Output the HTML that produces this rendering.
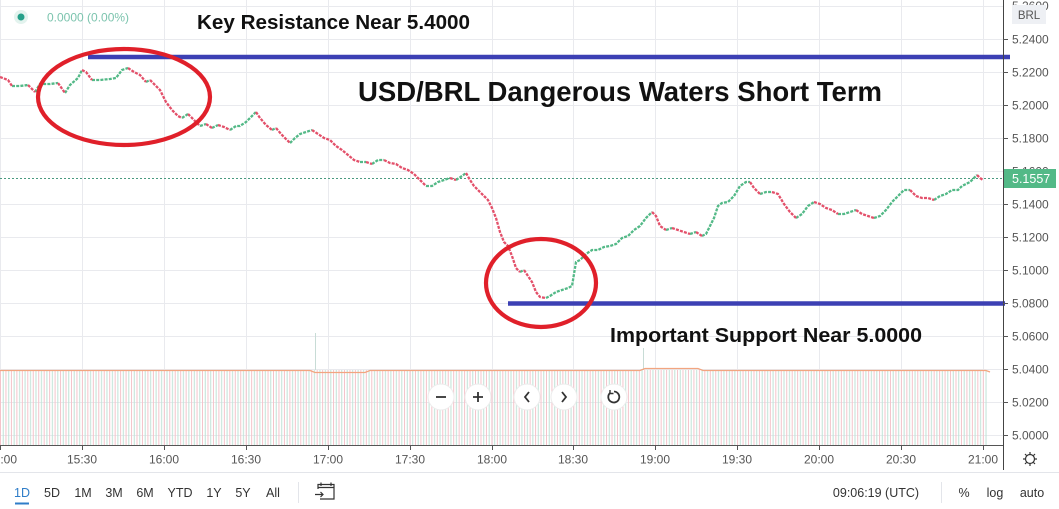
<!DOCTYPE html>
<html><head><meta charset="utf-8"><style>
html,body{margin:0;padding:0;background:#fff;}
svg{display:block;}
text{font-family:"Liberation Sans",sans-serif;}
</style></head><body>
<svg width="1059" height="509" viewBox="0 0 1059 509" xmlns="http://www.w3.org/2000/svg">
<defs>
<pattern id="vol" patternUnits="userSpaceOnUse" x="0" y="0" width="5.46" height="80">
<rect x="0" y="0" width="1" height="80" fill="#f4c3ca"/>
<rect x="2.73" y="0" width="1" height="80" fill="#bfe2d6"/>
</pattern>
</defs>
<rect width="1059" height="509" fill="#fff"/>
<!-- grid -->
<g stroke="#e9eaee" stroke-width="1">
<path d="M0,6.5H1003M0,39.5H1003M0,72.5H1003M0,105.5H1003M0,138.5H1003M0,171.5H1003M0,204.5H1003M0,237.5H1003M0,270.5H1003M0,303.5H1003M0,336.5H1003M0,369.5H1003M0,402.5H1003M0,435.5H1003"/>
<path d="M0.5,0V445M82.5,0V445M164.5,0V445M246.5,0V445M328.5,0V445M410.5,0V445M492.5,0V445M573.5,0V445M655.5,0V445M737.5,0V445M819.5,0V445M901.5,0V445M983.5,0V445"/>
</g>
<!-- volume -->
<rect x="0" y="370" width="988" height="75" fill="url(#vol)"/>
<path d="M315.5,333V370M643.5,348V370" stroke="#c8dcd6" stroke-width="1"/>
<path d="M0,370.5H310L315,372.5H365L370,370.5H640L645,368.5H698L703,370.5H986L990,372" fill="none" stroke="#f2a580" stroke-width="1.3"/>
<!-- current price dotted -->
<path d="M0,178.5H1003" stroke="#4a9a80" stroke-width="1" stroke-dasharray="2,2"/>
<!-- candles -->
<path fill="none" stroke="#53b987" stroke-width="2.3" stroke-dasharray="3,1.2" d="M12,86L20,86L28,85 M35,92L40,84L50,84L58,83 M65,93L70,85L78,78L82,70 M92,80L100,80L110,79L116,78L122,70L128,68 M146,82L150,80 M182,118L188,114 M200,126L206,124 M212,128L218,125 M230,130L236,126L240,126L246,122L252,116L256,112 M272,130L276,128 M290,143L295,138L300,134L306,132L312,130 M360,162L366,162 M372,164L378,160L384,160 M426,186L432,186L438,182L444,180L450,178 M456,180L462,176L466,173 M520,272L524,270 M546,298L550,296L556,292L562,290L568,288L572,286L576,262L580,260L586,254L592,250L598,250L604,247L610,246L616,244L622,238L628,236L634,230L640,226L646,218L652,212 M666,230L672,228 M690,234L696,232 M702,236L706,234L710,226L714,218L718,206L722,203L728,202L734,196L740,186L746,182L750,182 M760,194L766,192L772,192 M796,218L802,214L808,206L814,202 M838,214L844,214L850,212L856,210 M874,218L880,216L886,210L892,202L898,196L904,190L910,190 M934,200L940,196L946,194L952,190L958,190L962,186L966,184L970,182L974,178L977,175"/>
<path fill="none" stroke="#e3506a" stroke-width="2.3" stroke-dasharray="3,1.2" d="M0,77L8,80L12,86 M28,85L35,92 M58,83L65,93 M82,70L86,72L92,80 M128,68L134,72L140,75L146,82 M150,80L155,85L160,90L166,102L172,110L178,116L182,118 M188,114L192,118L200,126 M206,124L212,128 M218,125L224,127L230,130 M256,112L260,118L266,125L272,130 M276,128L282,135L290,143 M312,130L318,134L324,138L330,140L336,146L342,150L348,155L354,160L360,162 M366,162L372,164 M384,160L390,163L396,164L402,168L408,170L414,174L420,180L426,186 M450,178L456,180 M466,173L470,180L474,186L478,190L484,196L488,200L492,208L496,218L500,232L504,242L508,246L512,256L516,268L520,272 M524,270L528,276L532,282L536,292L540,297L546,298 M652,212L656,216L660,226L666,230 M672,228L678,230L684,232L690,234 M696,232L702,236 M750,182L754,188L760,194 M772,192L778,194L784,204L790,212L796,218 M814,202L820,204L826,208L832,210L838,214 M856,210L862,214L868,216L874,218 M910,190L916,196L922,198L928,198L934,200 M977,175L980,178L983,180"/>
<!-- annotations -->
<path d="M88,57H1010" stroke="#3c40b4" stroke-width="4.5"/>
<path d="M508,303.5H1005" stroke="#3c40b4" stroke-width="4.5"/>
<ellipse cx="124" cy="97" rx="86" ry="48" fill="none" stroke="#e0202a" stroke-width="4.2"/>
<ellipse cx="541" cy="283" rx="55" ry="44" fill="none" stroke="#e0202a" stroke-width="4.2"/>
<text x="197" y="29" font-size="20" font-weight="bold" fill="#111" textLength="273" lengthAdjust="spacingAndGlyphs">Key Resistance Near 5.4000</text>
<text x="358" y="101" font-size="28" font-weight="bold" fill="#111" textLength="524" lengthAdjust="spacingAndGlyphs">USD/BRL Dangerous Waters Short Term</text>
<text x="610" y="342" font-size="20" font-weight="bold" fill="#111" textLength="312" lengthAdjust="spacingAndGlyphs">Important Support Near 5.0000</text>
<!-- legend -->
<circle cx="21" cy="17" r="7" fill="#e3f3ee"/>
<circle cx="21" cy="17" r="3.5" fill="#26a08a"/>
<text x="47" y="21.5" font-size="12" fill="#7cc4ae">0.0000 (0.00%)</text>
<!-- zoom buttons -->
<g fill="#fff" stroke="#ececec" stroke-width="1">
<circle cx="441" cy="397" r="13"/><circle cx="478" cy="397" r="13"/><circle cx="527" cy="397" r="13"/><circle cx="564" cy="397" r="13"/><circle cx="614" cy="397" r="13"/>
</g>
<g stroke="#333" stroke-width="1.8" fill="none">
<path d="M436,397H446"/>
<path d="M473,397H483M478,392V402"/>
<path d="M529,392L525,397L529,402"/>
<path d="M562,392L566,397L562,402"/>
<path d="M610,393A5.5,5.5 0 1 0 614,391.5" /><path d="M610,390V393.5H613.5" stroke-width="1.4"/>
</g>
<!-- axes -->
<path d="M1003.5,0V470" stroke="#444" stroke-width="1"/>
<path d="M0,445.5H1003" stroke="#555" stroke-width="1"/>
<g stroke="#555" stroke-width="1">
<path d="M1003,39.5H1008M1003,72.5H1008M1003,105.5H1008M1003,138.5H1008M1003,204.5H1008M1003,237.5H1008M1003,270.5H1008M1003,303.5H1008M1003,336.5H1008M1003,369.5H1008M1003,402.5H1008M1003,435.5H1008"/>
<path d="M82.5,445V450M164.5,445V450M246.5,445V450M328.5,445V450M410.5,445V450M492.5,445V450M573.5,445V450M655.5,445V450M737.5,445V450M819.5,445V450M901.5,445V450M983.5,445V450M0.5,445V450"/>
</g>
<g font-size="12" fill="#555">
<text x="1012" y="10">5.2600</text>
<text x="1012" y="43.5">5.2400</text>
<text x="1012" y="76.5">5.2200</text>
<text x="1012" y="109.5">5.2000</text>
<text x="1012" y="142.5">5.1800</text>
<text x="1012" y="175.5">5.1600</text>
<text x="1012" y="208.5">5.1400</text>
<text x="1012" y="241.5">5.1200</text>
<text x="1012" y="274.5">5.1000</text>
<text x="1012" y="307.5">5.0800</text>
<text x="1012" y="340.5">5.0600</text>
<text x="1012" y="373.5">5.0400</text>
<text x="1012" y="406.5">5.0200</text>
<text x="1012" y="439.5">5.0000</text>
</g>
<rect x="1012" y="5" width="34" height="19" fill="#eef0f4"/>
<text x="1029" y="19" font-size="11.5" fill="#555" text-anchor="middle">BRL</text>
<rect x="1004" y="169" width="52" height="19" fill="#53b987"/>
<text x="1012" y="183" font-size="12.5" fill="#fff">5.1557</text>
<g font-size="12" fill="#555" text-anchor="middle">
<text x="2" y="463.5">15:00</text>
<text x="82" y="463.5">15:30</text>
<text x="164" y="463.5">16:00</text>
<text x="246" y="463.5">16:30</text>
<text x="328" y="463.5">17:00</text>
<text x="410" y="463.5">17:30</text>
<text x="492" y="463.5">18:00</text>
<text x="573" y="463.5">18:30</text>
<text x="655" y="463.5">19:00</text>
<text x="737" y="463.5">19:30</text>
<text x="819" y="463.5">20:00</text>
<text x="901" y="463.5">20:30</text>
<text x="983" y="463.5">21:00</text>
</g>
<!-- gear -->
<g stroke="#333" stroke-width="1.2" fill="none">
<circle cx="1030" cy="459" r="4.5"/>
<path d="M1030,452V454M1030,464V466M1023,459H1025M1035,459H1037M1025,454L1026.5,455.5M1033.5,462.5L1035,464M1025,464L1026.5,462.5M1033.5,455.5L1035,454"/>
</g>
<!-- bottom toolbar -->
<path d="M0,472.5H1059" stroke="#e3e5ea" stroke-width="1"/>
<g font-size="12.5" fill="#333" text-anchor="middle">
<text x="22" y="497" fill="#2f7dc8">1D</text>
<text x="52" y="497">5D</text>
<text x="83" y="497">1M</text>
<text x="114" y="497">3M</text>
<text x="145" y="497">6M</text>
<text x="180" y="497">YTD</text>
<text x="214" y="497">1Y</text>
<text x="243" y="497">5Y</text>
<text x="273" y="497">All</text>
<text x="876" y="497">09:06:19 (UTC)</text>
<text x="964" y="497">%</text>
<text x="995" y="497">log</text>
<text x="1032" y="497">auto</text>
</g>
<path d="M15,503.5H29" stroke="#2f7dc8" stroke-width="2"/>
<path d="M298.5,482V503M941.5,482V503" stroke="#e3e5ea" stroke-width="1"/>
<g stroke="#333" stroke-width="1.2" fill="none">
<path d="M318,489V484.5H334V499H320"/>
<path d="M318,487.5H334M321,482.5V486M331,482.5V486"/>
<path d="M315,494.5H323M320.5,492L323,494.5L320.5,497"/>
</g>
</svg>
</body></html>
